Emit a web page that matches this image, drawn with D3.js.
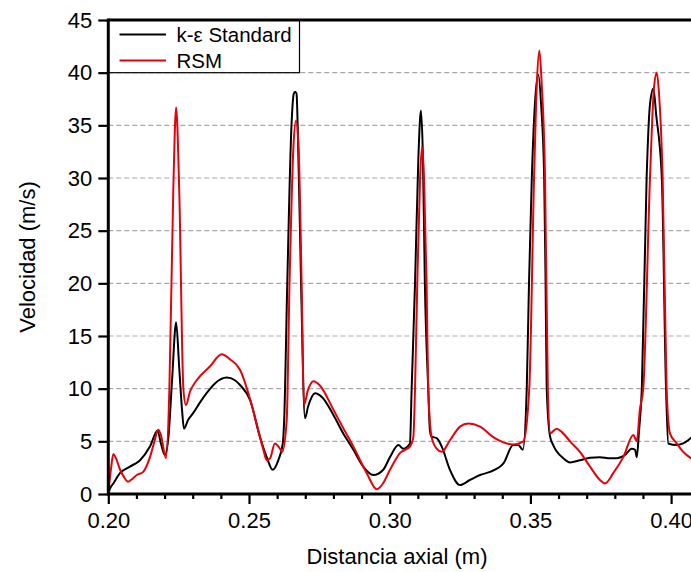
<!DOCTYPE html>
<html><head><meta charset="utf-8">
<script src="https://cdn.jsdelivr.net/npm/d3@7/dist/d3.min.js"></script>
<style>
body{margin:0;background:#fff}
svg{display:block}
text{font-family:"Liberation Sans",Arial,sans-serif;fill:#000}
</style>
</head><body>
<svg id="chart" width="691" height="572"></svg>
<script>
// ---- data ----
const seriesNames = ["k-ε Standard", "RSM"];
const seriesColors = ["#000000", "#e8000b"];

const kEpsX = [0.2000,0.2006,0.2018,0.2042,0.2077,0.2113,0.2148,0.2175,0.2188,0.2201,0.2214,0.2227,0.2241,0.2252,0.2262,0.2269,0.2283,0.2302,0.2326,0.2350,0.2379,0.2421,0.2450,0.2468,0.2504,0.2539,0.2563,0.2584,0.2604,0.2620,0.2625,0.2636,0.2651,0.2659,0.2664,0.2669,0.2673,0.2685,0.2699,0.2710,0.2735,0.2759,0.2800,0.2834,0.2871,0.2906,0.2942,0.2977,0.3001,0.3031,0.3048,0.3072,0.3078,0.3090,0.3102,0.3111,0.3118,0.3125,0.3137,0.3143,0.3149,0.3167,0.3185,0.3214,0.3250,0.3285,0.3321,0.3356,0.3404,0.3439,0.3457,0.3473,0.3487,0.3495,0.3505,0.3516,0.3528,0.3538,0.3549,0.3554,0.3558,0.3570,0.3581,0.3617,0.3641,0.3676,0.3712,0.3747,0.3783,0.3807,0.3836,0.3860,0.3872,0.3878,0.3886,0.3896,0.3913,0.3925,0.3937,0.3947,0.3967,0.3982,0.3990,0.4020,0.4043,0.4070,0.4080];
const kEpsV = [0.0,0.5,1.0,2.0,2.6,3.2,4.5,6.0,4.7,3.7,5.5,11.0,16.3,12.0,8.0,6.2,7.0,7.7,8.7,9.6,10.5,11.05,10.8,10.35,8.9,5.4,3.5,2.3,3.2,4.8,7.0,20.0,35.0,38.0,38.2,38.0,35.0,20.0,7.2,8.3,9.56,9.2,7.5,5.8,4.2,2.6,1.8,2.3,3.5,4.65,4.3,4.8,10.0,20.0,32.0,36.4,32.0,20.0,10.0,6.0,5.45,5.3,4.5,2.3,0.85,1.33,1.8,2.1,2.9,4.65,4.65,4.2,10.0,20.0,30.0,37.0,39.8,37.0,30.0,20.0,10.0,5.45,4.65,3.4,3.0,3.2,3.45,3.5,3.4,3.4,3.7,4.3,4.2,3.5,6.0,10.0,30.0,37.0,38.5,36.0,30.0,10.0,4.8,4.65,4.8,5.3,5.5];

const rsmX = [0.2000,0.2010,0.2018,0.2027,0.2042,0.2056,0.2071,0.2084,0.2101,0.2124,0.2148,0.2162,0.2178,0.2187,0.2205,0.2217,0.2231,0.2241,0.2252,0.2267,0.2276,0.2290,0.2314,0.2361,0.2403,0.2432,0.2468,0.2504,0.2527,0.2551,0.2563,0.2575,0.2592,0.2610,0.2618,0.2634,0.2644,0.2658,0.2667,0.2676,0.2687,0.2695,0.2710,0.2729,0.2752,0.2800,0.2834,0.2871,0.2918,0.2954,0.2976,0.3001,0.3037,0.3072,0.3084,0.3090,0.3098,0.3108,0.3115,0.3122,0.3131,0.3137,0.3149,0.3167,0.3185,0.3214,0.3250,0.3279,0.3321,0.3368,0.3404,0.3439,0.3475,0.3496,0.3513,0.3523,0.3532,0.3540,0.3552,0.3562,0.3570,0.3593,0.3611,0.3641,0.3676,0.3712,0.3747,0.3765,0.3795,0.3830,0.3866,0.3878,0.3889,0.3901,0.3925,0.3939,0.3949,0.3957,0.3970,0.3984,0.3996,0.4020,0.4043,0.4070,0.4080];
const rsmV = [0.0,2.5,3.8,3.4,2.3,1.6,1.17,1.4,1.8,2.1,3.5,4.8,6.1,5.6,3.4,9.9,28.9,36.7,28.9,9.9,8.45,9.7,10.8,12.1,13.26,12.8,11.8,9.0,6.7,4.2,3.2,3.4,4.8,4.3,4.0,7.0,20.0,33.0,35.45,33.0,20.0,8.45,9.9,10.7,10.3,8.0,6.3,4.5,2.0,0.45,1.0,2.3,3.9,4.5,5.4,10.0,20.0,30.0,33.0,30.0,20.0,10.0,5.4,4.3,4.0,5.1,6.4,6.7,6.4,5.4,4.9,4.7,5.0,10.0,30.0,39.0,42.1,39.0,30.0,10.0,5.76,6.2,5.9,5.0,4.0,2.6,1.33,1.0,2.0,3.5,5.6,5.0,8.0,10.0,30.0,38.5,40.0,38.0,30.0,10.0,5.76,4.8,4.0,3.4,3.2];

const xMajorTicks = [0.20, 0.25, 0.30, 0.35, 0.40];
const xMinorTicks = [0.21,0.22,0.23,0.24,0.26,0.27,0.28,0.29,0.31,0.32,0.33,0.34,0.36,0.37,0.38,0.39];
const yTicks = [0,5,10,15,20,25,30,35,40,45];
const yGrid = [5,10,15,20,25,30,35,40];

// ---- layout ----
const plotL = 108.3, plotR = 691, plotT = 20, plotB = 494;
const svg = d3.select("#chart");

const x = d3.scaleLinear().domain([0.20, 0.40]).range([108.3, 671.1]);
const y = d3.scaleLinear().domain([0, 45]).range([plotB, plotT]);

svg.append("defs").append("clipPath").attr("id","plotclip")
  .append("rect").attr("x", plotL).attr("y", plotT).attr("width", plotR-plotL).attr("height", plotB-plotT);

// grid
svg.append("g").selectAll("line").data(yGrid).join("line")
  .attr("x1", plotL).attr("x2", plotR)
  .attr("y1", d => y(d)).attr("y2", d => y(d))
  .attr("stroke", "#a8a8a8").attr("stroke-width", 1.2).attr("stroke-dasharray", "5,3");

// curves
const line = d3.line().curve(d3.curveMonotoneX);
const series = [
  kEpsX.map((d,i)=>[x(d), y(kEpsV[i])]),
  rsmX.map((d,i)=>[x(d), y(rsmV[i])])
];
const gLines = svg.append("g").attr("clip-path","url(#plotclip)");
series.forEach((pts,i)=>{
  gLines.append("path").attr("d", line(pts)).attr("fill","none")
    .attr("stroke", seriesColors[i]).attr("stroke-width", 2).attr("stroke-linejoin","round");
});

// x axis
const gx = svg.append("g").attr("transform", `translate(0,${plotB})`);
gx.call(d3.axisBottom(x).tickValues(xMajorTicks).tickFormat(d3.format(".2f")).tickSize(10).tickPadding(8));
gx.select(".domain").remove();
gx.selectAll(".tick line").attr("stroke","#000").attr("stroke-width",2.2);
gx.selectAll(".tick text").attr("font-size", 22).attr("font-family", "Liberation Sans, Arial, sans-serif");
const gxm = svg.append("g").attr("transform", `translate(0,${plotB})`);
gxm.call(d3.axisBottom(x).tickValues(xMinorTicks).tickFormat("").tickSize(5));
gxm.select(".domain").remove();
gxm.selectAll(".tick line").attr("stroke","#000").attr("stroke-width",2.2);

// y axis
const gy = svg.append("g").attr("transform", `translate(${plotL},0)`);
gy.call(d3.axisLeft(y).tickValues(yTicks).tickFormat(d3.format("d")).tickSize(10).tickPadding(6));
gy.select(".domain").remove();
gy.selectAll(".tick line").attr("stroke","#000").attr("stroke-width",2.2);
gy.selectAll(".tick text").attr("font-size", 22).attr("font-family", "Liberation Sans, Arial, sans-serif");

// bottom frame line
svg.append("line").attr("x1", plotL).attr("x2", plotR).attr("y1", plotB).attr("y2", plotB)
  .attr("stroke","#000").attr("stroke-width",3);

// legend
const lg = svg.append("g");
lg.append("rect").attr("x", plotL).attr("y", plotT).attr("width", 299.5-plotL).attr("height", 72.7-plotT)
  .attr("fill","#fff").attr("stroke","#000").attr("stroke-width",1.2);
seriesNames.forEach((name,i)=>{
  const yy = [34.5, 60.5][i];
  lg.append("line").attr("x1",119.5).attr("x2",166).attr("y1",yy).attr("y2",yy)
    .attr("stroke", seriesColors[i]).attr("stroke-width",2);
  lg.append("text").attr("x",176.5).attr("y",yy+7.5).attr("font-size",20.5).text(name);
});
// top and left frame over legend
svg.append("line").attr("x1", plotL).attr("x2", plotR).attr("y1", plotT).attr("y2", plotT)
  .attr("stroke","#000").attr("stroke-width",3);
svg.append("line").attr("x1", plotL).attr("x2", plotL).attr("y1", plotT-1.5).attr("y2", plotB+1.5)
  .attr("stroke","#000").attr("stroke-width",3);

// axis titles
svg.append("text").attr("x", 397).attr("y", 564).attr("text-anchor","middle")
  .attr("font-size", 22).text("Distancia axial (m)");
svg.append("text").attr("transform","translate(35,257) rotate(-90)").attr("text-anchor","middle")
  .attr("font-size", 22).text("Velocidad (m/s)");
</script>
</body></html>
